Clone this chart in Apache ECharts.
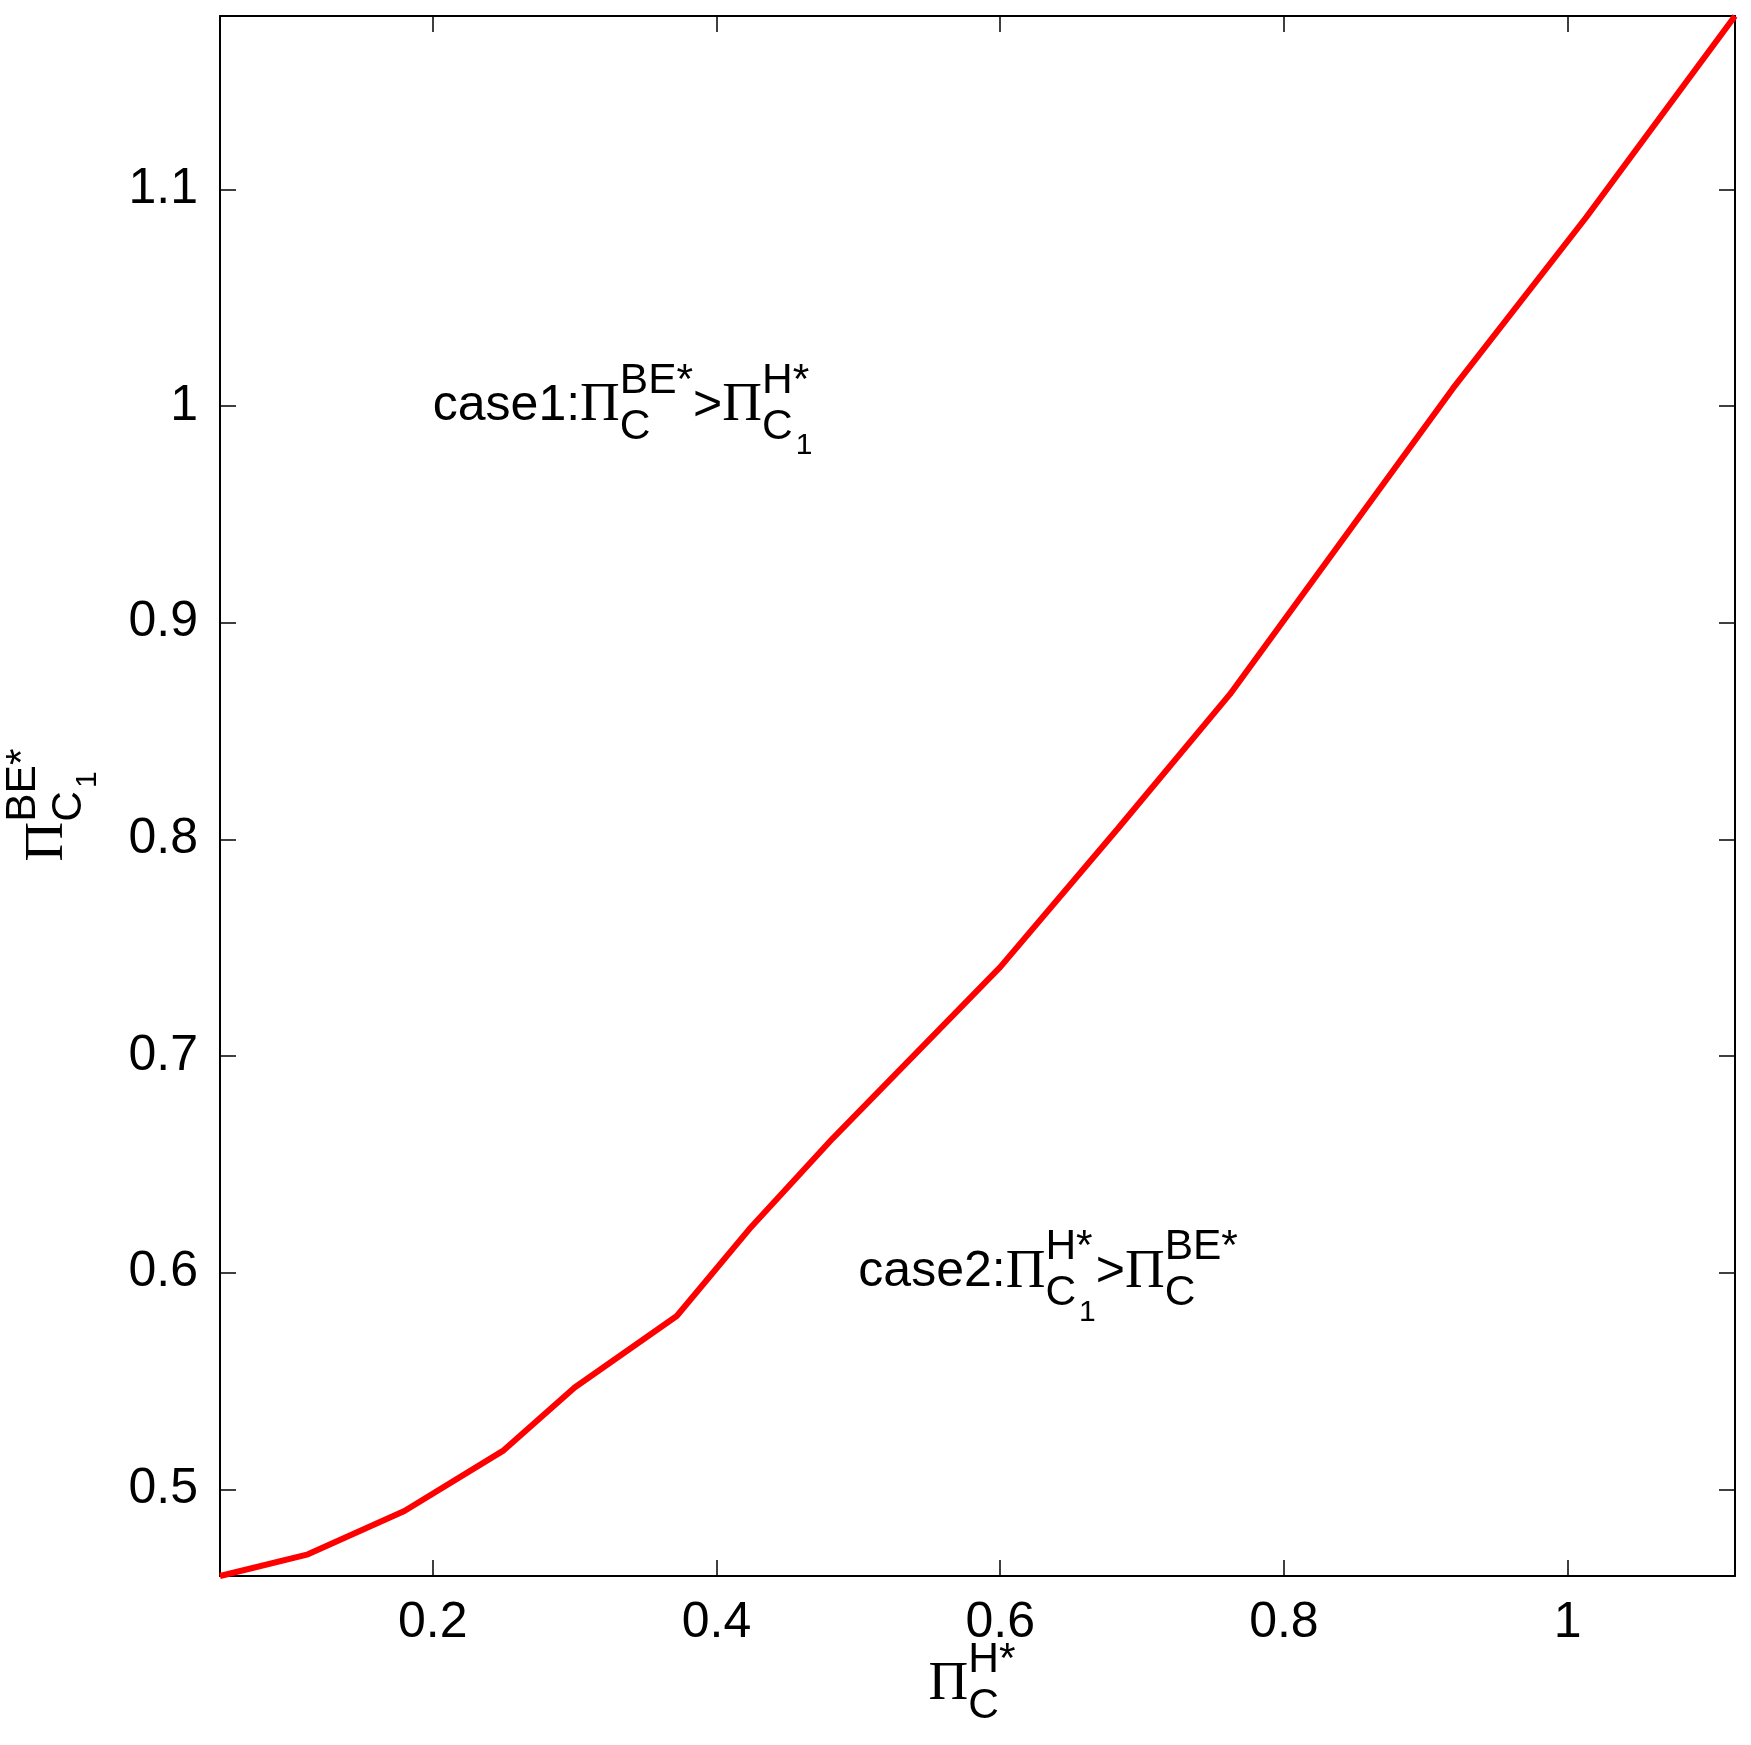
<!DOCTYPE html>
<html><head><meta charset="utf-8">
<script src="https://cdn.jsdelivr.net/npm/echarts@6/dist/echarts.min.js"></script>
<style>html,body{margin:0;padding:0;background:#fff}#c{width:1751px;height:1745px}</style>
</head><body><div id="c"></div>
<script>
const xValues = [0.05, 0.112, 0.18, 0.25, 0.3, 0.372, 0.423, 0.482, 0.6, 0.683, 0.762, 0.84, 0.919, 1.013, 1.118];
const yValues = [0.46, 0.47, 0.49, 0.518, 0.547, 0.58, 0.62, 0.662, 0.741, 0.805, 0.867, 0.937, 1.008, 1.087, 1.18];
const xTicks = [0.2, 0.4, 0.6, 0.8, 1];
const yTicks = [0.5, 0.6, 0.7, 0.8, 0.9, 1, 1.1];

const SANS = '"Liberation Sans", Arial, sans-serif';
const SERIF = '"Liberation Serif", "DejaVu Serif", serif';
const S = 50;
const chart = echarts.init(document.getElementById('c'));
const axisCommon = (pos, ticks, min, max, labels) => ({
  type: 'value', position: pos, min: min, max: max,
  axisLine: {show: true, onZero: false, lineStyle: {color: '#000', width: 2}},
  axisTick: {show: true, inside: true, length: 16, customValues: ticks, lineStyle: {color: '#000', width: 1.5}},
  axisLabel: {show: labels, customValues: ticks, color: '#000', fontSize: S, fontFamily: SANS, margin: 22},
  splitLine: {show: false}
});
chart.setOption({
  animation: false,
  grid: {left: 220, right: 16, top: 16, bottom: 169},
  xAxis: [axisCommon('bottom', xTicks, 0.05, 1.118, true), axisCommon('top', xTicks, 0.05, 1.118, false)],
  yAxis: [axisCommon('left', yTicks, 0.46, 1.18, true), axisCommon('right', yTicks, 0.46, 1.18, false)],
  series: [{type: 'line', data: xValues.map((x, i) => [x, yValues[i]]), showSymbol: false,
    lineStyle: {color: '#ff0000', width: 6}, clip: false}]
});

const ctx = document.createElement('canvas').getContext('2d');
function tw(t, size, fam) { ctx.font = size + 'px ' + fam; return ctx.measureText(t).width; }
function build(tokens) {
  let x = 0; const kids = [];
  function put(t, size, fam, dx, dy) {
    kids.push({type: 'text', x: dx, y: dy, style: {text: t, font: size + 'px ' + fam, fill: '#000', verticalAlign: 'middle', align: 'left'}});
    return tw(t, size, fam);
  }
  tokens.forEach(tk => {
    if (tk.b !== undefined) {
      x += tk.pi ? put(tk.b, S * 1.1, SERIF, x, 0) : put(tk.b, S, SANS, x, 0);
    } else {
      let ws = 0, wp = 0;
      if (tk.sub) { ws = put(tk.sub, S * 0.85, SANS, x, S * 0.42); if (tk.subsub) ws += put(tk.subsub, S * 0.6, SANS, x + ws + 3, S * 0.8) + 3; }
      if (tk.sup) wp = put(tk.sup, S * 0.85, SANS, x, -S * 0.5);
      x += Math.max(ws, wp);
    }
  });
  return {kids, width: x};
}
const PI = {b: 'Π', pi: 1};
const case1 = build([{b: 'case1:'}, PI, {sub: 'C', sup: 'BE*'}, {b: '>'}, PI, {sub: 'C', subsub: '1', sup: 'H*'}]);
const case2 = build([{b: 'case2:'}, PI, {sub: 'C', subsub: '1', sup: 'H*'}, {b: '>'}, PI, {sub: 'C', sup: 'BE*'}]);
const xl = build([PI, {sub: 'C', sup: 'H*'}]);
const yl = build([PI, {sub: 'C', subsub: '1', sup: 'BE*'}]);
const p1 = chart.convertToPixel({xAxisIndex: 0, yAxisIndex: 0}, [0.2, 1.0]);
const p2 = chart.convertToPixel({xAxisIndex: 0, yAxisIndex: 0}, [0.5, 0.6]);
chart.setOption({graphic: [
  {type: 'group', x: p1[0], y: p1[1], children: case1.kids},
  {type: 'group', x: p2[0], y: p2[1], children: case2.kids},
  {type: 'group', x: 972 - xl.width / 2, y: 1685, children: xl.kids},
  {type: 'group', x: 48, y: 805 + yl.width / 2, rotation: Math.PI / 2, children: yl.kids}
]});
</script></body></html>
